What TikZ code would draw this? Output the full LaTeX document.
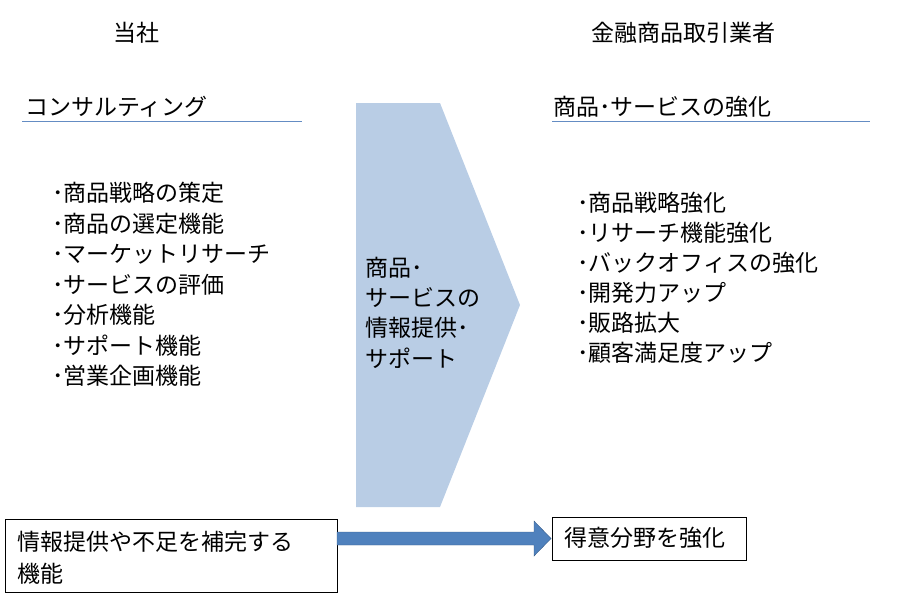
\documentclass[tikz,border=0pt]{standalone}
\usepackage{fontspec}
\setmainfont{Noto Sans CJK JP}
\usetikzlibrary{arrows.meta}
\definecolor{chev}{RGB}{185,205,229}
\definecolor{rule}{RGB}{100,140,195}
\definecolor{arrfill}{RGB}{79,129,189}
\definecolor{arrline}{RGB}{56,93,138}
\begin{document}
\begin{tikzpicture}[x=1pt,y=-1pt,
  txt/.style={anchor=west,inner sep=0pt,font=\fontsize{23}{26}\selectfont},
  box/.style={draw=black,thick,anchor=north west,inner sep=0pt}]
\useasboundingbox (0,0) rectangle (904,597);
\tikzstyle{item_style} = [txt]
% headings
\node[txt,anchor=center] (h1) at (136,33) {当社};
\node[txt,anchor=center] (h2) at (683,33) {金融商品取引業者};
\node[txt] (s1) at (25,107) {コンサルティング};
\node[txt] (s2) at (553,107) {商品･サービスの強化};
\draw[rule] (22,121) -- (302,121);
\draw[rule] (552,121) -- (870,121);
% chevron
\fill[chev] (356,103) -- (440,103) -- (520,305) -- (440,507) -- (356,507) -- cycle;
\node[item_style] (m1) at (365,268) {商品･};
\node[item_style] (m2) at (365,298) {サービスの};
\node[item_style] (m3) at (365,328) {情報提供･};
\node[item_style] (m4) at (365,358) {サポート};
% lists
\foreach \t [count=\i from 0] in {商品戦略の策定,商品の選定機能,マーケットリサーチ,サービスの評価,分析機能,サポート機能,営業企画機能}
  \node[item_style] (l\i) at (52,193+30.5*\i) {･\t};
\foreach \t [count=\i from 0] in {商品戦略強化,リサーチ機能強化,バックオフィスの強化,開発力アップ,販路拡大,顧客満足度アップ}
  \node[item_style] (r\i) at (577,203+30*\i) {･\t};
% bottom
\node[box,minimum width=332,minimum height=73] (b1) at (5,519) {};
\node[txt] (b1a) at (17,542) {情報提供や不足を補完する};
\node[txt] (b1b) at (17,574) {機能};
\node[box,minimum width=194,minimum height=43] (b2) at (552,517) {};
\node[txt] (b2a) at (564,538) {得意分野を強化};
\draw[arrline,fill=arrfill] (337,532) -- (534,532) -- (534,521) -- (551,538.5) -- (534,556) -- (534,545) -- (337,545) -- cycle;
\end{tikzpicture}
\end{document}
